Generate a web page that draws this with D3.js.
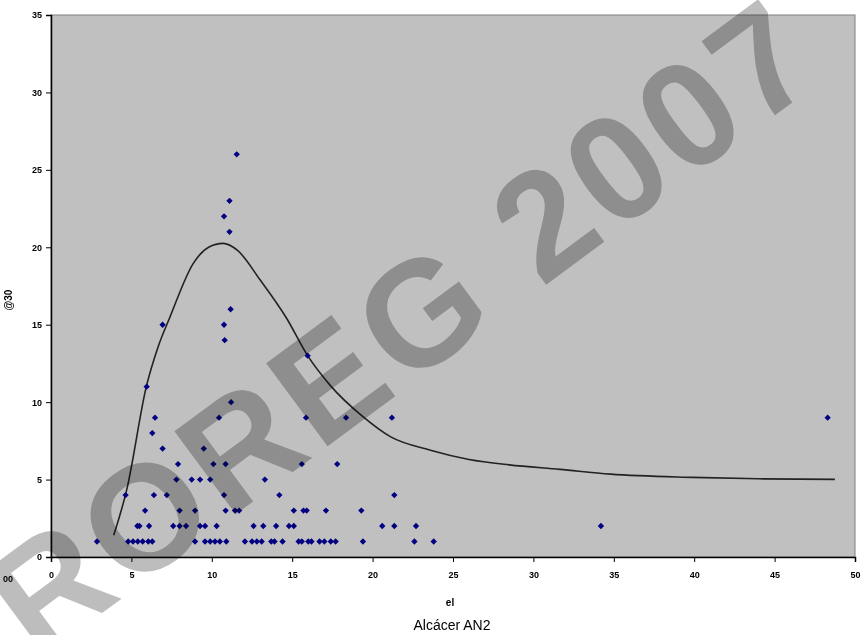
<!DOCTYPE html>
<html>
<head>
<meta charset="utf-8">
<script src="https://cdn.jsdelivr.net/npm/d3@7"></script>
<style>
  body { margin: 0; background: #fff; }
  svg { display: block; }
  .tick text { font-family: "Liberation Sans", Arial, sans-serif; font-weight: bold; font-size: 9px; }
</style>
</head>
<body>
<div id="chart"></div>
<script>
(function() {
// x values of the observations, grouped by their (integer) y value
var xAtY1 = [2.86, 4.8, 5.1, 5.4, 5.7, 6.05, 6.3, 8.96, 9.58, 9.9, 10.2, 10.5,
    10.9, 12.06, 12.5, 12.8, 13.1, 13.7, 13.9, 14.4, 15.4, 15.6, 16.0, 16.2,
    16.7, 17.0, 17.4, 17.7, 19.4, 22.6, 23.8];
var xAtY2 = [5.37, 5.5, 6.1, 7.6, 8.0, 8.4, 9.27, 9.58, 10.3, 12.6, 13.2, 14.0,
    14.8, 15.1, 20.6, 21.35, 22.7, 34.2];
var xAtY3 = [5.85, 8.0, 8.96, 10.86, 11.44, 11.7, 15.1, 15.7, 15.9, 17.1, 19.3];
var xAtY4 = [4.64, 6.4, 7.2, 10.76, 14.2, 21.35];
var xAtY5 = [7.8, 8.75, 9.27, 9.9, 13.3];
var xAtY6 = [7.9, 10.1, 10.86, 15.6, 17.8];
var xAtY7 = [6.94, 9.5];
var xAtY8 = [6.3];
var xAtY9 = [6.47, 10.45, 15.86, 18.35, 21.2, 48.3];
var xAtY10 = [11.2];
var xAtY11 = [5.95];
var xAtY13 = [15.96];
var xAtY14 = [10.8];
var xAtY15 = [6.94, 10.76];
var xAtY16 = [11.17];
var xAtY21 = [11.1];
var xAtY22 = [10.76];
var xAtY23 = [11.1];
var xAtY26 = [11.55];

// fitted curve
var curveX = [3.9, 4.7, 5.95, 6.67, 7.4, 8.85, 9.8, 10.7, 11.6, 13.0,
    14.66, 15.96, 17.35, 19.4, 21.1, 23.6, 26.0, 28.5, 31.65, 34.8, 39.9, 44.0,
    48.75];
var curveY = [1.4, 4.3, 11.1, 13.6, 15.5, 18.96, 20.0, 20.25, 19.8, 17.9,
    15.4, 13.0, 11.1, 9.06, 7.77, 6.9, 6.3, 5.95, 5.66, 5.35, 5.14, 5.05, 5.01];

var xTicks = [0, 5, 10, 15, 20, 25, 30, 35, 40, 45, 50];
var yTicks = [0, 5, 10, 15, 20, 25, 30, 35];

var width = 861, height = 635,
    left = 51, top = 15, right = 855, bottom = 557;

var groups = [
  [1, xAtY1], [2, xAtY2], [3, xAtY3], [4, xAtY4], [5, xAtY5], [6, xAtY6],
  [7, xAtY7], [8, xAtY8], [9, xAtY9], [10, xAtY10], [11, xAtY11],
  [13, xAtY13], [14, xAtY14], [15, xAtY15], [16, xAtY16], [21, xAtY21],
  [22, xAtY22], [23, xAtY23], [26, xAtY26]];
var points = [];
groups.forEach(function(g) {
  g[1].forEach(function(x) { points.push({x: x, y: g[0]}); });
});
var curve = curveX.map(function(x, i) { return {x: x, y: curveY[i]}; });

var svg = d3.select('#chart').append('svg')
    .attr('width', width)
    .attr('height', height);

var x = d3.scaleLinear().domain([0, 50]).range([left, right]);
var y = d3.scaleLinear().domain([0, 35]).range([bottom, top]);

// plot area
svg.append('rect')
    .attr('x', left).attr('y', top)
    .attr('width', right - left).attr('height', bottom - top)
    .attr('fill', '#c0c0c0')
    .attr('stroke', '#808080')
    .attr('stroke-width', 1);

var xAxis = svg.append('g')
    .attr('transform', 'translate(0,' + bottom + ')')
    .call(d3.axisBottom(x).tickValues(xTicks).tickSize(5).tickPadding(10));
var yAxis = svg.append('g')
    .attr('transform', 'translate(' + left + ',0)')
    .call(d3.axisLeft(y).tickValues(yTicks).tickSize(5).tickPadding(4));
[xAxis, yAxis].forEach(function(a) {
  a.select('.domain').attr('stroke', '#000').attr('stroke-width', 1.5);
  a.selectAll('.tick line').attr('stroke', '#000');
  a.selectAll('.tick text').attr('fill', '#000');
});

// stray label left of the x axis
svg.append('text')
    .attr('x', 8).attr('y', 582)
    .attr('text-anchor', 'middle')
    .attr('font-family', 'Liberation Sans, Arial, sans-serif')
    .attr('font-weight', 'bold').attr('font-size', 9)
    .text('00');

// axis titles
svg.append('text')
    .attr('transform', 'translate(12,300) rotate(-90)')
    .attr('text-anchor', 'middle')
    .attr('font-family', 'Liberation Sans, Arial, sans-serif')
    .attr('font-weight', 'bold').attr('font-size', 10)
    .text('@30');
svg.append('text')
    .attr('x', 450).attr('y', 606)
    .attr('text-anchor', 'middle')
    .attr('font-family', 'Liberation Sans, Arial, sans-serif')
    .attr('font-weight', 'bold').attr('font-size', 10)
    .text('el');
svg.append('text')
    .attr('x', 452).attr('y', 630)
    .attr('text-anchor', 'middle')
    .attr('font-family', 'Liberation Sans, Arial, sans-serif')
    .attr('font-size', 14)
    .text('Alcácer AN2');

// fitted curve
svg.append('path')
    .datum(curve)
    .attr('fill', 'none')
    .attr('stroke', '#222')
    .attr('stroke-width', 1.6)
    .attr('d', d3.line()
        .x(function(d) { return x(d.x); })
        .y(function(d) { return y(d.y); })
        .curve(d3.curveMonotoneX));

// observations
svg.selectAll('.pt').data(points)
  .enter().append('path')
    .attr('class', 'pt')
    .attr('d', d3.symbol().type(d3.symbolSquare).size(20))
    .attr('fill', '#000080')
    .attr('transform', function(d) {
      return 'translate(' + x(d.x) + ',' + y(d.y) + ') rotate(45)';
    });

// watermark
svg.append('text')
    .attr('transform', 'translate(400,328) rotate(-36.5)')
    .attr('text-anchor', 'middle')
    .attr('dominant-baseline', 'central')
    .attr('font-family', 'Liberation Sans, Arial, sans-serif')
    .attr('font-weight', 'bold')
    .attr('font-size', 150)
    .attr('textLength', 980)
    .attr('lengthAdjust', 'spacing')
    .attr('fill', '#bdbdbd')
    .style('mix-blend-mode', 'multiply')
    .text('ROREG 2007');
})();
</script>
</body>
</html>
